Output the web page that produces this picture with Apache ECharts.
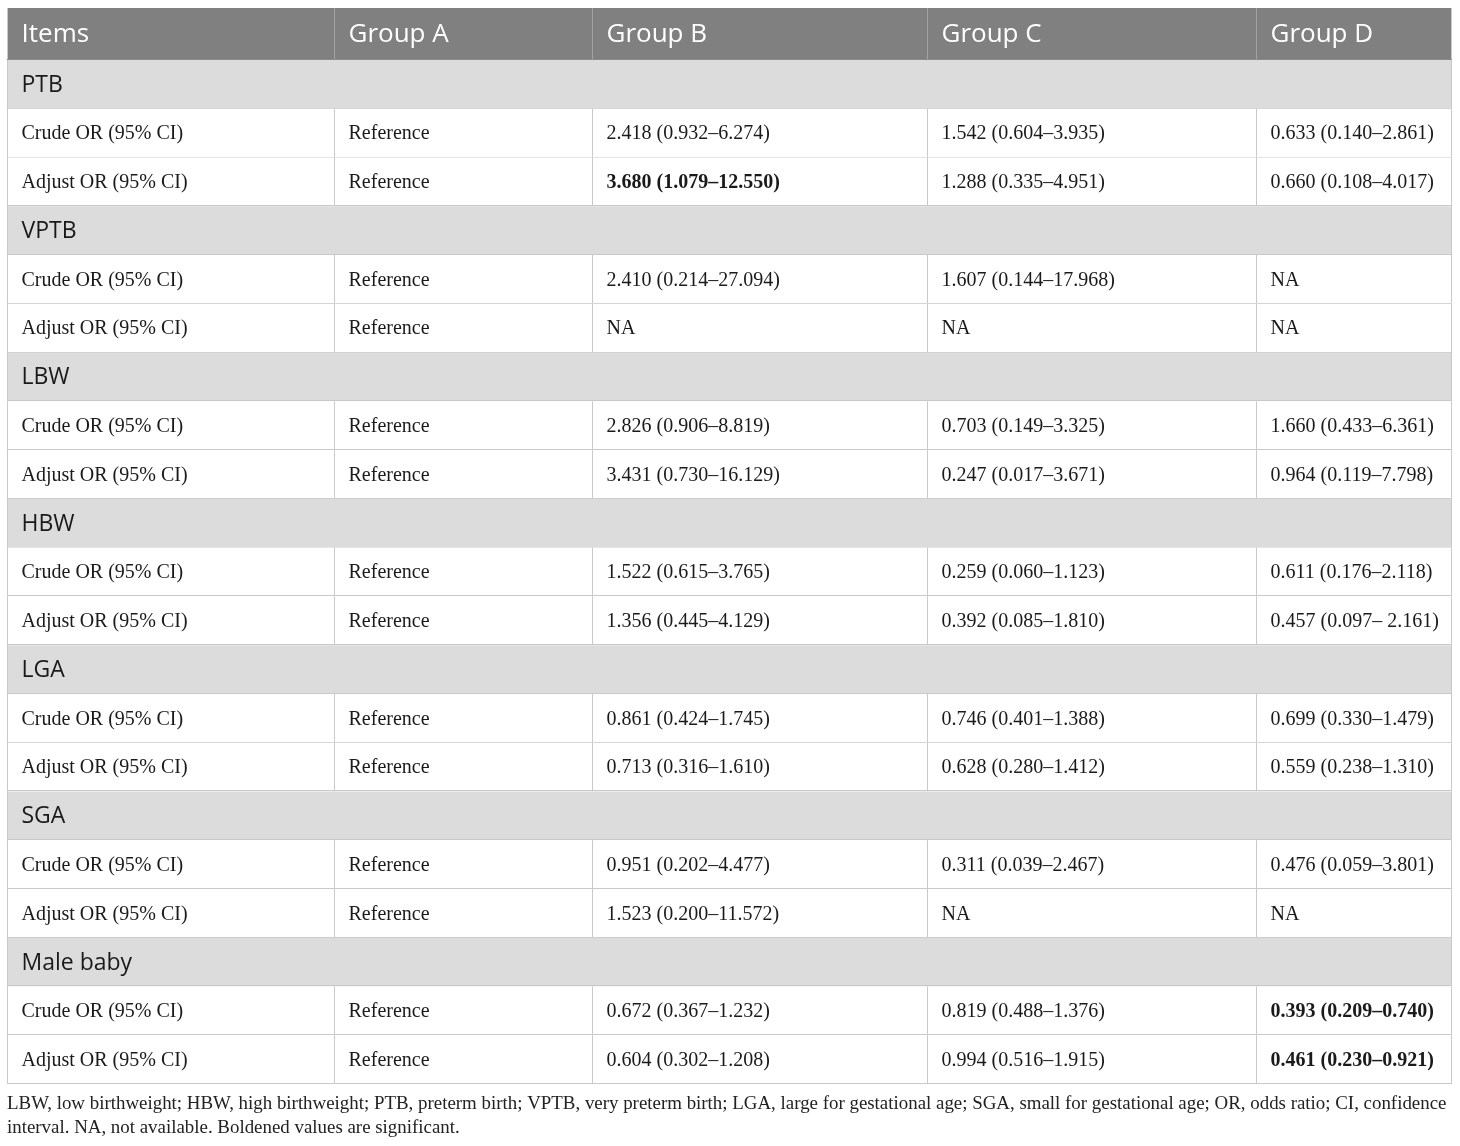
<!DOCTYPE html>
<html><head><meta charset="utf-8">
<script src="https://cdn.jsdelivr.net/npm/echarts@6/dist/echarts.min.js"></script>
<style>html,body{margin:0;padding:0;background:#fff}#c{width:1460px;height:1146px}</style>
</head><body><div id="c"></div>
<script>
// ---------- data ----------
const columns = ['Items', 'Group A', 'Group B', 'Group C', 'Group D'];
const sections = ['PTB', 'VPTB', 'LBW', 'HBW', 'LGA', 'SGA', 'Male baby'];
const rowLabels = ['Crude OR (95% CI)', 'Adjust OR (95% CI)'];
const groupA = 'Reference';
const groupB = [
  '2.418 (0.932–6.274)', '3.680 (1.079–12.550)',
  '2.410 (0.214–27.094)', 'NA',
  '2.826 (0.906–8.819)', '3.431 (0.730–16.129)',
  '1.522 (0.615–3.765)', '1.356 (0.445–4.129)',
  '0.861 (0.424–1.745)', '0.713 (0.316–1.610)',
  '0.951 (0.202–4.477)', '1.523 (0.200–11.572)',
  '0.672 (0.367–1.232)', '0.604 (0.302–1.208)'
];
const groupC = [
  '1.542 (0.604–3.935)', '1.288 (0.335–4.951)',
  '1.607 (0.144–17.968)', 'NA',
  '0.703 (0.149–3.325)', '0.247 (0.017–3.671)',
  '0.259 (0.060–1.123)', '0.392 (0.085–1.810)',
  '0.746 (0.401–1.388)', '0.628 (0.280–1.412)',
  '0.311 (0.039–2.467)', 'NA',
  '0.819 (0.488–1.376)', '0.994 (0.516–1.915)'
];
const groupD = [
  '0.633 (0.140–2.861)', '0.660 (0.108–4.017)',
  'NA', 'NA',
  '1.660 (0.433–6.361)', '0.964 (0.119–7.798)',
  '0.611 (0.176–2.118)', '0.457 (0.097– 2.161)',
  '0.699 (0.330–1.479)', '0.559 (0.238–1.310)',
  '0.476 (0.059–3.801)', 'NA',
  '0.393 (0.209–0.740)', '0.461 (0.230–0.921)'
];
// significant (bold) cells: [group column index, data row index]
const boldCells = [[2, 1], [4, 12], [4, 13]];
const footnote = [
  'LBW, low birthweight; HBW, high birthweight; PTB, preterm birth; VPTB, very preterm birth; LGA, large for gestational age; SGA, small for gestational age; OR, odds ratio; CI, confidence',
  'interval. NA, not available. Boldened values are significant.'
];

// ---------- layout / style ----------
const colEdges = [0, 327, 585, 920, 1249, 1445];
const HEADER_UNITS = 1.066;   // header row is slightly taller than body rows
const PAD = 14.5;
const headerFont = '"Open Sans", "Noto Sans", sans-serif';
const serifFont = '"Liberation Serif", "DejaVu Serif", serif';
const lineColor = '#c9c9c9';

// build rows
const rows = [{ kind: 'header', cells: columns }];
sections.forEach((s, si) => {
  rows.push({ kind: 'section', cells: [s] });
  rowLabels.forEach((lab, li) => {
    const k = si * 2 + li;
    rows.push({ kind: 'data', idx: k, cells: [lab, groupA, groupB[k], groupC[k], groupD[k]] });
  });
});
const rowStart = rows.map((r, i) => i === 0 ? 0 : HEADER_UNITS + (i - 1));
const rowEnd = rows.map((r, i) => i === 0 ? HEADER_UNITS : HEADER_UNITS + i);
const totalUnits = rowEnd[rowEnd.length - 1];
const isBold = (c, k) => boldCells.some(b => b[0] === c && b[1] === k);

const chart = echarts.init(document.getElementById('c'));
chart.setOption({
  animation: false,
  backgroundColor: '#ffffff',
  title: {
    text: footnote.join('\n'),
    left: 7, top: 1092, padding: 0,
    textStyle: { fontFamily: serifFont, fontSize: 18.9, fontWeight: 'normal', color: '#222', lineHeight: 24 }
  },
  grid: { left: 7, right: 8, top: 8, bottom: 62 },
  xAxis: { type: 'value', min: 0, max: 1445, show: false },
  yAxis: { type: 'value', inverse: true, min: 0, max: totalUnits, show: false },
  series: [{
    type: 'custom',
    data: rows.map((r, i) => [i, rowStart[i], rowEnd[i]]),
    encode: { y: [1, 2] },
    renderItem: function (params, api) {
      const ri = api.value(0);
      const row = rows[ri];
      const y0 = api.coord([0, api.value(1)])[1];
      const y1 = api.coord([0, api.value(2)])[1];
      const h = y1 - y0, cy = (y0 + y1) / 2;
      const xs = colEdges.map(e => api.coord([e, 0])[0]);
      const children = [];
      let bg = '#ffffff';
      if (row.kind === 'header') bg = '#808080';
      else if (row.kind === 'section') bg = '#dcdcdc';
      children.push({ type: 'rect', shape: { x: xs[0], y: y0, width: xs[5] - xs[0], height: h }, style: { fill: bg } });
      if (row.kind !== 'section') {
        for (let j = 1; j < 5; j++) {
          children.push({ type: 'line', shape: { x1: xs[j] + 0.5, y1: y0, x2: xs[j] + 0.5, y2: y1 },
            style: { stroke: row.kind === 'header' ? '#a3a3a3' : lineColor, lineWidth: 1 } });
        }
      }
      children.push({ type: 'line', shape: { x1: xs[0] + 0.5, y1: y0, x2: xs[0] + 0.5, y2: y1 }, style: { stroke: lineColor, lineWidth: 1 } });
      children.push({ type: 'line', shape: { x1: xs[5] - 0.5, y1: y0, x2: xs[5] - 0.5, y2: y1 }, style: { stroke: lineColor, lineWidth: 1 } });
      children.push({ type: 'line', shape: { x1: xs[0], y1: Math.round(y1) - 0.5, x2: xs[5], y2: Math.round(y1) - 0.5 },
        style: { stroke: row.kind === 'header' ? '#8a8a8a' : lineColor, lineWidth: 1.2 } });
      row.cells.forEach((t, j) => {
        let font;
        if (row.kind === 'header') font = { fontFamily: headerFont, fontSize: 26, fill: '#ffffff', fontWeight: 'normal' };
        else if (row.kind === 'section') font = { fontFamily: headerFont, fontSize: 23, fill: '#1a1a1a', fontWeight: 'normal' };
        else font = { fontFamily: serifFont, fontSize: 20, fill: '#1a1a1a', fontWeight: isBold(j, row.idx) ? 'bold' : 'normal' };
        children.push({ type: 'text', style: Object.assign({ text: t, x: xs[j] + PAD, y: cy + 1, align: 'left', verticalAlign: 'middle' }, font) });
      });
      return { type: 'group', children: children };
    }
  }]
});
</script>
</body></html>
